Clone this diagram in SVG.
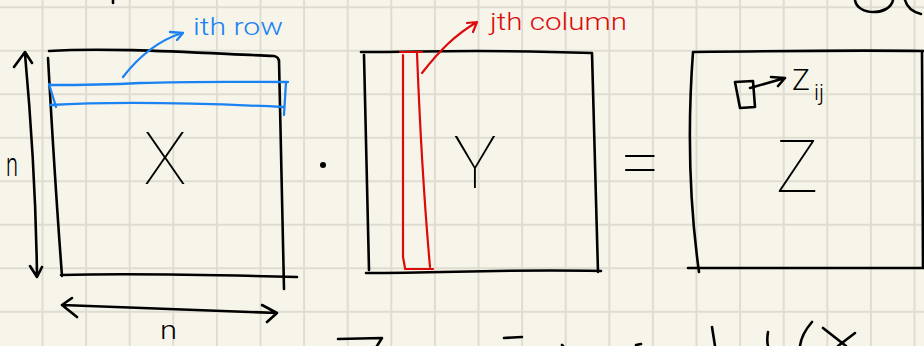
<svg xmlns="http://www.w3.org/2000/svg" width="924" height="346" viewBox="0 0 924 346">
<defs>
<style>
.grid{stroke:#dfddd1;stroke-width:2}
.ink{fill:none;stroke:#000;stroke-width:2.6;stroke-linecap:round;stroke-linejoin:round}
.blue{fill:none;stroke:#1a82f2;stroke-width:2.3;stroke-linecap:round;stroke-linejoin:round}
.red{fill:none;stroke:#dd0a0a;stroke-width:2.2;stroke-linecap:round;stroke-linejoin:round}
.big{font-family:Roboto,"Liberation Sans",sans-serif;font-weight:100;font-size:72px;fill:#000;text-anchor:middle}
.lbl{font-family:Roboto,"Liberation Sans",sans-serif;font-weight:300;font-size:24px}
.hand{font-family:Roboto,"Liberation Sans",sans-serif;font-weight:300;fill:#000}
</style>
</defs>
<rect width="924" height="346" fill="#f7f5ea"/>
<g id="grid" class="grid">
<path d="M42.5,0V346M86.1,0V346M129.7,0V346M173.3,0V346M216.9,0V346M260.5,0V346M304.1,0V346M347.7,0V346M391.3,0V346M434.9,0V346M478.5,0V346M522.1,0V346M565.7,0V346M609.3,0V346M652.9,0V346M696.5,0V346M740.1,0V346M783.7,0V346M827.3,0V346M870.9,0V346M914.5,0V346"/>
<path d="M0,7.3H924M0,50.8H924M0,94.3H924M0,137.8H924M0,181.3H924M0,224.8H924M0,268.3H924M0,311.8H924"/>
</g>
<g id="matrixX">
<path class="ink" d="M49,51 C110,47 200,53 274,56 Q279,57 279,62 M279,60 C281,130 282,220 284,289 M48,58 C52,130 57,210 62,276 M61,275 C140,273 220,275 297,277"/>
<text class="big" x="165" y="184">X</text>
</g>
<g id="dimN_vertical">
<path class="ink" d="M25,54 C31,120 36,200 37,276 M14,67 L25,52 L32,63 M30,266 L37,277 L42,267"/>
<text class="hand" x="6" y="176" font-size="34" textLength="12" lengthAdjust="spacingAndGlyphs">n</text>
</g>
<g id="dimN_horizontal">
<path class="ink" d="M62,305 C130,307 200,310 277,313 M72,298 L62,305 L77,317 M262,305 L277,313 L267,322"/>
<text class="hand" x="160" y="339" font-size="26" textLength="17" lengthAdjust="spacingAndGlyphs">n</text>
</g>
<g id="ithRow">
<path class="blue" d="M49,85 C100,85 120,84 140,83 C200,81 250,82 288,82 M50,105 C120,101 200,103 283,107 M49,84 L56,107 M286,82 L284,115"/>
<path class="blue" d="M123,77 C140,55 160,40 182,33 M170,32 L183,33 L177,40"/>
<text class="lbl" x="193" y="35" fill="#1a82f2" textLength="90" lengthAdjust="spacingAndGlyphs">ith row</text>
</g>
<g id="dotOp">
<circle cx="323" cy="165" r="3" fill="#000"/>
</g>
<g id="matrixY">
<path class="ink" d="M361,52 C430,52 480,49 592,53 M364,55 L369,270 M592,53 C594,130 596,200 598,272 M366,273 C450,273 500,269 601,271"/>
<text class="big" x="475" y="188">Y</text>
</g>
<g id="jthColumn">
<path class="red" d="M400,52 L422,52 M403,55 L403,257 L405,268 M417,53 C420,130 424,200 430,267 M405,269 L433,269"/>
<path class="red" d="M422,73 C440,50 455,35 477,22 M467,23 L477,22 L473,32"/>
<text class="lbl" x="490" y="30" fill="#dd0a0a" textLength="137" lengthAdjust="spacingAndGlyphs">jth column</text>
</g>
<g id="equals">
<text class="big" x="640" y="186">=</text>
</g>
<g id="matrixZ">
<path class="ink" d="M693,52 C770,51 850,50 924,51 M693,52 C688,120 689,200 699,272 M688,268 L924,268 M922,52 L923,268"/>
<text class="big" x="797" y="192">Z</text>
</g>
<g id="entryZij">
<path class="ink" d="M735,82 L753,81 L755,107 L740,108 Z M750,88 L785,78 M771,77 L785,78 L778,86"/>
<text class="hand" x="792" y="90" font-size="30">Z<tspan font-size="22" dx="4" dy="10">ij</tspan></text>
</g>
<g id="fragments">
<path class="ink" d="M855,0 C857,16 890,16 893,0 M905,0 C907,8 913,12 921,14 M113,0 L113,3 M338,339 L382,338 L377,346 M504,338 L522,337 M562,345 L563,346 M636,345 L641,344 M712,327 L715,346 M768,332 C767,338 767,342 768,346 M812,322 C805,330 801,338 800,346 M823,328 L846,346 M855,333 L838,346"/>
</g>
</svg>
